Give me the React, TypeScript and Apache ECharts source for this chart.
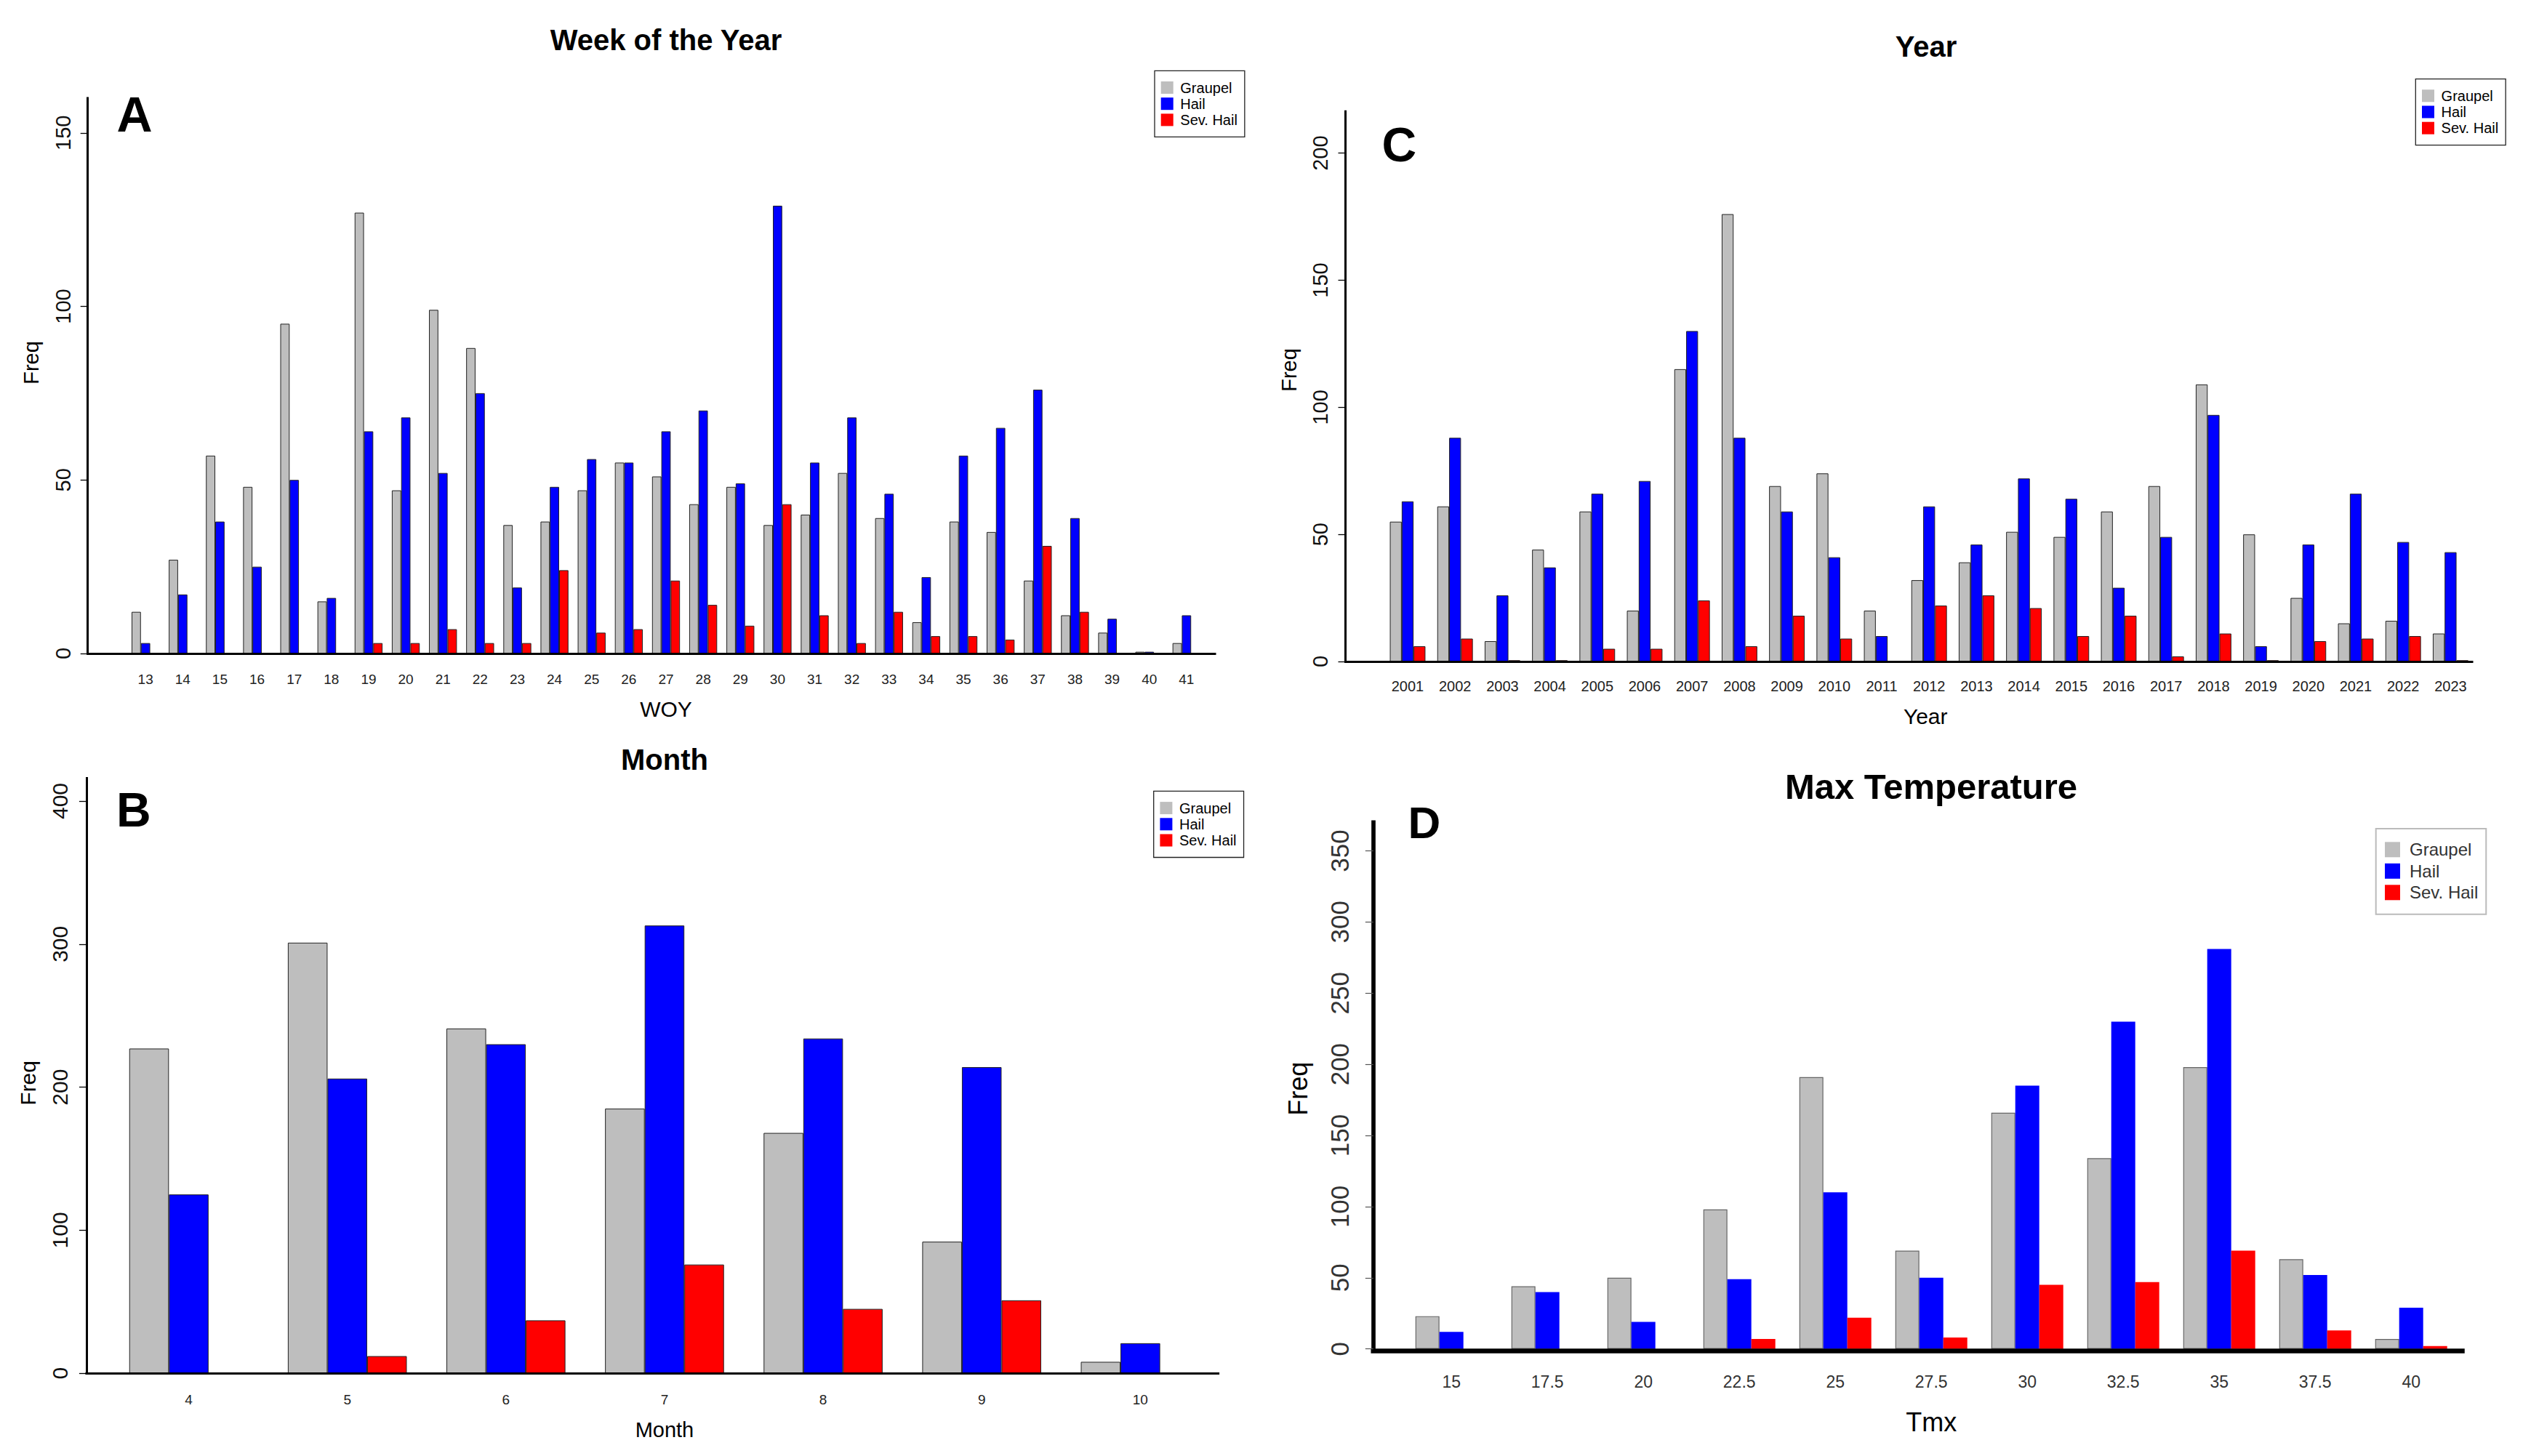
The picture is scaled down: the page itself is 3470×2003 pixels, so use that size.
import React, { useEffect, useRef } from "react";
import * as echarts from "echarts";

const SERIES_NAMES = ["Graupel", "Hail", "Sev. Hail"];
const SERIES_COLORS = ["#BEBEBE", "#0000FF", "#FF0000"];

// Panel A: Week of the Year
const woyCategories = ["13","14","15","16","17","18","19","20","21","22","23","24","25","26","27","28","29","30","31","32","33","34","35","36","37","38","39","40","41"];
const woyGraupel = [12,27,57,48,95,15,127,47,99,88,37,38,47,55,51,43,48,37,40,52,39,9,38,35,21,11,6,0.5,3];
const woyHail = [3,17,38,25,50,16,64,68,52,75,19,48,56,55,64,70,49,129,55,68,46,22,57,65,76,39,10,0.5,11];
const woySevHail = [0,0,0,0,0,0,3,3,7,3,3,24,6,7,21,14,8,43,11,3,12,5,5,4,31,12,0,0,0];
const woyTicks = [0, 50, 100, 150];

// Panel B: Month
const monthCategories = ["4","5","6","7","8","9","10"];
const monthGraupel = [227,301,241,185,168,92,8];
const monthHail = [125,206,230,313,234,214,21];
const monthSevHail = [0,12,37,76,45,51,0];
const monthTicks = [0, 100, 200, 300, 400];

// Panel C: Year
const yearCategories = ["2001","2002","2003","2004","2005","2006","2007","2008","2009","2010","2011","2012","2013","2014","2015","2016","2017","2018","2019","2020","2021","2022","2023"];
const yearGraupel = [55,61,8,44,59,20,115,176,69,74,20,32,39,51,49,59,69,109,50,25,15,16,11];
const yearHail = [63,88,26,37,66,71,130,88,59,41,10,61,46,72,64,29,49,97,6,46,66,47,43];
const yearSevHail = [6,9,0.5,0.5,5,5,24,6,18,9,0,22,26,21,10,18,2,11,0.5,8,9,10,0.5];
const yearTicks = [0, 50, 100, 150, 200];

// Panel D: Max Temperature
const tmxCategories = ["15","17.5","20","22.5","25","27.5","30","32.5","35","37.5","40"];
const tmxGraupel = [23,44,50,98,191,69,166,134,198,63,7];
const tmxHail = [12,40,19,49,110,50,185,230,281,52,29];
const tmxSevHail = [0,0,0,7,22,8,45,47,69,13,2];
const tmxTicks = [0, 50, 100, 150, 200, 250, 300, 350];

const FONT = "'Liberation Sans', Arial, Helvetica, sans-serif";

type PanelCfg = {
  title: string; titleX: number; titleTop: number; titleSize: number;
  letter: string; letterX: number; letterTop: number; letterSize: number;
  frame: { left: number; top: number; width: number; height: number };
  barsLeft: number; barsWidth: number;
  yMax: number; yTicks: number[];
  categories: string[]; values: number[][];
  yLabelMargin: number; yLabelSize: number; yLabelColor: string;
  yNameGap: number; yNameSize: number; yNamePad: number[];
  xLabelMargin: number; xLabelSize: number; xLabelColor: string;
  xName: string; xNameGap: number; xNameSize: number; xNamePad: number[];
  yLineW: number; xLineW: number; xOffset: number;
  tickLen: number; tickW: number; tickColor: string;
  borders: { color: string; width: number }[];
  legend: { left: number; top: number; padding: number[]; size: number; gap: number; font: number; textPad: number; border: string; borderW: number; color: string };
};

const panels: PanelCfg[] = [
  {
    title: "Week of the Year", titleX: 916, titleTop: 34.5, titleSize: 40,
    letter: "A", letterX: 160.5, letterTop: 123.4, letterSize: 68,
    frame: { left: 120.7, top: 135, width: 1550.3, height: 764 },
    barsLeft: 174.6, barsWidth: 1482.8,
    yMax: 160, yTicks: woyTicks,
    categories: woyCategories, values: [woyGraupel, woyHail, woySevHail],
    yLabelMargin: 19, yLabelSize: 29, yLabelColor: "#111",
    yNameGap: 63, yNameSize: 29, yNamePad: [0, 0, 0, 36],
    xLabelMargin: 25.5, xLabelSize: 19, xLabelColor: "#222",
    xName: "WOY", xNameGap: 61.4, xNameSize: 30, xNamePad: [0, 0, 0, 0],
    yLineW: 3, xLineW: 3, xOffset: 0,
    tickLen: 10, tickW: 1.3, tickColor: "#000",
    borders: [{ color: "#222", width: 1 }, { color: "#222", width: 1 }, { color: "#222", width: 1 }],
    legend: { left: 1588, top: 97.3, padding: [13.2, 10, 13.5, 8.7], size: 17, gap: 2.2, font: 20, textPad: 4.6, border: "#222", borderW: 1.3, color: "#000" },
  },
  {
    title: "Month", titleX: 914, titleTop: 1024.6, titleSize: 40,
    letter: "B", letterX: 160, letterTop: 1080.7, letterSize: 66,
    frame: { left: 118.9, top: 1070.5, width: 1556.7, height: 818.7 },
    barsLeft: 150.5, barsWidth: 1526.9,
    yMax: 416, yTicks: monthTicks,
    categories: monthCategories, values: [monthGraupel, monthHail, monthSevHail],
    yLabelMargin: 21, yLabelSize: 30, yLabelColor: "#111",
    yNameGap: 65, yNameSize: 30, yNamePad: [0, 20, 0, 0],
    xLabelMargin: 27, xLabelSize: 19, xLabelColor: "#222",
    xName: "Month", xNameGap: 63, xNameSize: 29, xNamePad: [0, 0, 0, 0],
    yLineW: 3, xLineW: 3, xOffset: 0,
    tickLen: 10, tickW: 1.3, tickColor: "#000",
    borders: [{ color: "#222", width: 1 }, { color: "#222", width: 1 }, { color: "#222", width: 1 }],
    legend: { left: 1586.7, top: 1088.4, padding: [13.2, 10, 13.5, 8.7], size: 17, gap: 2.2, font: 20, textPad: 4.6, border: "#222", borderW: 1.3, color: "#000" },
  },
  {
    title: "Year", titleX: 2649, titleTop: 44.2, titleSize: 40,
    letter: "C", letterX: 1900.5, letterTop: 165.6, letterSize: 66,
    frame: { left: 1850.5, top: 153.3, width: 1549.5, height: 756.7 },
    barsLeft: 1903.4, barsWidth: 1499.6,
    yMax: 216.4, yTicks: yearTicks,
    categories: yearCategories, values: [yearGraupel, yearHail, yearSevHail],
    yLabelMargin: 20, yLabelSize: 29, yLabelColor: "#111",
    yNameGap: 63, yNameSize: 29, yNamePad: [0, 0, 0, 45.4],
    xLabelMargin: 23.9, xLabelSize: 20, xLabelColor: "#222",
    xName: "Year", xNameGap: 60.3, xNameSize: 30, xNamePad: [0, 10, 0, 0],
    yLineW: 3, xLineW: 3, xOffset: 0,
    tickLen: 10, tickW: 1.3, tickColor: "#000",
    borders: [{ color: "#222", width: 1 }, { color: "#222", width: 1 }, { color: "#222", width: 1 }],
    legend: { left: 3322.3, top: 108.6, padding: [13.2, 10, 13.5, 8.7], size: 17, gap: 2.2, font: 20, textPad: 4.6, border: "#222", borderW: 1.3, color: "#000" },
  },
  {
    title: "Max Temperature", titleX: 2656, titleTop: 1057, titleSize: 49,
    letter: "D", letterX: 1936.5, letterTop: 1100.3, letterSize: 62,
    frame: { left: 1888.8, top: 1131.3, width: 1497.6, height: 724.4 },
    barsLeft: 1930.2, barsWidth: 1452,
    yMax: 370, yTicks: tmxTicks,
    categories: tmxCategories, values: [tmxGraupel, tmxHail, tmxSevHail],
    yLabelMargin: 29.3, yLabelSize: 35, yLabelColor: "#333",
    yNameGap: 85.4, yNameSize: 36, yNamePad: [0, 8.6, 0, 0],
    xLabelMargin: 33.5, xLabelSize: 23, xLabelColor: "#333",
    xName: "Tmx", xNameGap: 82.8, xNameSize: 36, xNamePad: [0, 0, 0, 0],
    yLineW: 5.7, xLineW: 6.7, xOffset: 2.7,
    tickLen: 11, tickW: 1.2, tickColor: "#555",
    borders: [{ color: "#666", width: 1.2 }, { color: "#0000FF", width: 0 }, { color: "#FF0000", width: 0 }],
    legend: { left: 3267.7, top: 1140, padding: [16.8, 11, 17.9, 12.3], size: 21, gap: 5.5, font: 24, textPad: 8, border: "#BBBBBB", borderW: 2, color: "#333" },
  },
];

function buildOption() {
  const grid: any[] = [];
  const xAxis: any[] = [];
  const yAxis: any[] = [];
  const series: any[] = [];
  const legend: any[] = [];
  const title: any[] = [];

  panels.forEach((p) => {
    const fi = grid.length;
    grid.push({ left: p.frame.left, top: p.frame.top, width: p.frame.width, height: p.frame.height, outerBoundsMode: "none" });
    const bi = grid.length;
    grid.push({ left: p.barsLeft, top: p.frame.top, width: p.barsWidth, height: p.frame.height, outerBoundsMode: "none" });

    // frame axes (axis lines, ticks, y labels)
    xAxis.push({
      type: "value", gridIndex: fi, min: 0, max: 1, z: 10, offset: p.xOffset,
      axisLine: { show: true, onZero: false, lineStyle: { color: "#000", width: p.xLineW, cap: "square" } },
      axisTick: { show: false }, axisLabel: { show: false }, splitLine: { show: false },
    });
    yAxis.push({
      type: "value", gridIndex: fi, min: 0, max: p.yMax, z: 10,
      axisLine: { show: true, lineStyle: { color: "#000", width: p.yLineW, cap: "square" } },
      axisTick: { show: true, length: p.tickLen, lineStyle: { color: p.tickColor, width: p.tickW }, customValues: p.yTicks },
      axisLabel: { show: true, rotate: 90, margin: p.yLabelMargin, fontSize: p.yLabelSize, fontFamily: FONT, color: p.yLabelColor, customValues: p.yTicks },
      splitLine: { show: false },
      name: "Freq", nameLocation: "middle", nameGap: p.yNameGap,
      nameTextStyle: { fontSize: p.yNameSize, fontFamily: FONT, color: "#000", padding: p.yNamePad },
    });

    // bar axes
    xAxis.push({
      type: "category", gridIndex: bi, data: p.categories,
      axisLine: { show: false }, axisTick: { show: false },
      axisLabel: { interval: 0, margin: p.xLabelMargin, fontSize: p.xLabelSize, fontFamily: FONT, color: p.xLabelColor },
      name: p.xName, nameLocation: "middle", nameGap: p.xNameGap,
      nameTextStyle: { fontSize: p.xNameSize, fontFamily: FONT, color: "#000", padding: p.xNamePad },
    });
    yAxis.push({ type: "value", gridIndex: bi, min: 0, max: p.yMax, show: false, splitLine: { show: false } });

    p.values.forEach((vals, k) => {
      series.push({
        type: "bar", name: SERIES_NAMES[k], xAxisIndex: bi, yAxisIndex: bi, data: vals,
        barGap: "0%", barCategoryGap: "25%",
        itemStyle: { color: SERIES_COLORS[k], borderColor: p.borders[k].color, borderWidth: p.borders[k].width },
        emphasis: { disabled: true },
      });
    });

    legend.push({
      data: SERIES_NAMES, orient: "vertical", left: p.legend.left, top: p.legend.top,
      padding: p.legend.padding, itemWidth: p.legend.size, itemHeight: p.legend.size, itemGap: p.legend.gap,
      icon: "rect", borderColor: p.legend.border, borderWidth: p.legend.borderW, backgroundColor: "#fff",
      selectedMode: false, itemStyle: { borderWidth: 0 },
      textStyle: { fontSize: p.legend.font, fontFamily: FONT, color: p.legend.color, padding: [0, 0, 0, p.legend.textPad] },
    });

    title.push({
      text: p.title, left: p.titleX, top: p.titleTop, textAlign: "center", padding: 0,
      textStyle: { fontSize: p.titleSize, fontWeight: "bold", fontFamily: FONT, color: "#000" },
    });
    title.push({
      text: p.letter, left: p.letterX, top: p.letterTop, padding: 0,
      textStyle: { fontSize: p.letterSize, fontWeight: "bold", fontFamily: FONT, color: "#000" },
    });
  });

  return { animation: false, backgroundColor: "#fff", grid, xAxis, yAxis, series, legend, title };
}

export default function App() {
  const ref = useRef<HTMLDivElement>(null);
  useEffect(() => {
    if (!ref.current) return;
    const chart = echarts.init(ref.current, undefined, { renderer: "svg" });
    chart.setOption(buildOption() as any);
    return () => chart.dispose();
  }, []);
  return (
    <div
      ref={ref}
      style={{ position: "fixed", left: 0, top: 0, width: 3470, height: 2003, background: "#fff" }}
    />
  );
}
